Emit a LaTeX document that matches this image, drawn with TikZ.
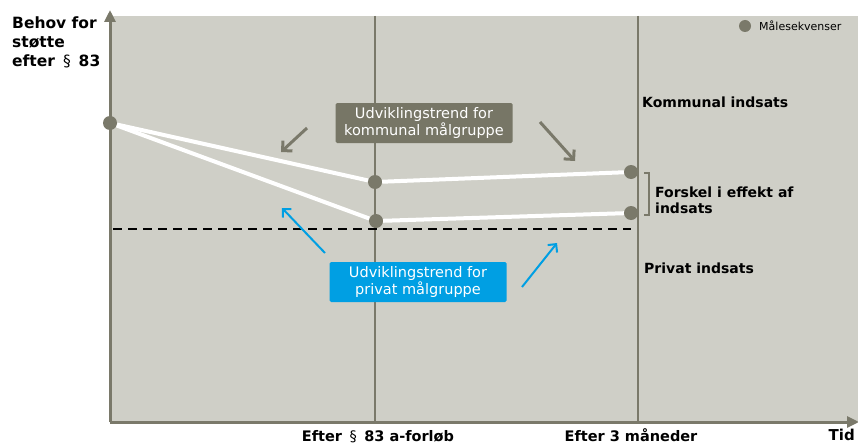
\documentclass[tikz,border=0pt]{standalone}
\usepackage{fontspec}
\setmainfont{DejaVu Sans}
\usetikzlibrary{arrows.meta}
\definecolor{panel}{RGB}{207,207,199}
\definecolor{axisgray}{RGB}{122,121,106}
\definecolor{boxgray}{RGB}{119,118,102}
\definecolor{trendblue}{RGB}{0,159,227}
\tikzset{
  axisline/.style={axisgray, line width=3pt, -{Triangle[width=11pt,length=12pt]}},
  gridline/.style={axisgray, line width=1.3pt},
  trend/.style={white, line width=4pt},
  pt/.style={circle, fill=axisgray, inner sep=0pt, minimum size=14pt},
  labelbox/.style={rounded corners=1.5pt, text=white, align=center, inner sep=0pt,
    minimum width=177pt, minimum height=40pt, font=\fontsize{14.5}{17}\selectfont},
  kbox/.style={labelbox, fill=boxgray},
  pbox/.style={labelbox, fill=trendblue},
  grayarrow/.style={axisgray, line width=3pt, -{Straight Barb[length=7pt,width=14pt,line width=3pt]}},
  bluearrow/.style={trendblue, line width=2pt, -{Straight Barb[length=6pt,width=12pt,line width=2pt]}},
  boldlabel/.style={font=\bfseries\fontsize{14}{16}\selectfont, anchor=west, align=left, inner sep=0pt},
  ticklabel/.style={font=\bfseries\fontsize{14.5}{16}\selectfont, anchor=base, inner sep=0pt},
}
\begin{document}
\begin{tikzpicture}[x=1pt,y=-1pt]
\useasboundingbox[fill=white] (0,0) rectangle (858,444);
% plotting area
\fill[panel] (110,16) rectangle (858,422);
% time markers
\coordinate (g1t) at (375,16);  \coordinate (g1b) at (375,422);
\coordinate (g2t) at (638,16);  \coordinate (g2b) at (638,422);
\draw[gridline] (g1t) -- (g1b);
\draw[gridline] (g2t) -- (g2b);
% axes
\coordinate (origin) at (110,422);
\coordinate (ytop) at (110,10);
\coordinate (xend) at (859,422);
\draw[axisline] (origin) -- (ytop);
\draw[axisline] (origin) -- (xend);
% baseline (dashed)
\coordinate (dl) at (113,229);
\coordinate (dr) at (631,229);
\draw[black, line width=1.2pt, dash pattern=on 9pt off 6pt] (dl) -- (dr);
% measurement points
\node[pt] (s)  at (110,123) {};
\node[pt] (k1) at (375,182) {};
\node[pt] (k2) at (631,172) {};
\node[pt] (p1) at (376,221) {};
\node[pt] (p2) at (631,213) {};
% trend lines
\draw[trend] (s) -- (k1) -- (k2);
\draw[trend] (s) -- (p1) -- (p2);
% labels for trends
\node[kbox] (kb) at (424,123) {Udviklingstrend for\\kommunal målgruppe};
\node[pbox] (pb) at (418,282) {Udviklingstrend for\\privat målgruppe};
% gray pointers
\coordinate (ga1) at (307,128); \coordinate (ga2) at (281,152);
\coordinate (gb1) at (540,122); \coordinate (gb2) at (575,161);
\draw[grayarrow] (ga1) -- (ga2);
\draw[grayarrow] (gb1) -- (gb2);
% blue pointers
\coordinate (ba1) at (325,253); \coordinate (ba2) at (282,208);
\coordinate (bb1) at (522,287); \coordinate (bb2) at (557,243);
\draw[bluearrow] (ba1) -- (ba2);
\draw[bluearrow] (bb1) -- (bb2);
% bracket for difference
\coordinate (bt) at (644,173); \coordinate (bb) at (644,215);
\draw[axisgray, line width=1.2pt] (bt) -- ++(5,0) |- (bb);
% right side labels
\node[boldlabel] (kl) at (642,102) {Kommunal indsats};
\node[boldlabel] (fl) at (655,200) {Forskel i effekt af\\indsats};
\node[boldlabel] (pl) at (644,268) {Privat indsats};
% legend
\node[pt, minimum size=12pt] (lg) at (745,26) {};
\node[anchor=west, font=\fontsize{11}{12}\selectfont, inner sep=0pt] (lgt) at (759,26) {Målesekvenser};
% y-axis title
\node[anchor=north west, align=left, inner sep=0pt,
  font=\bfseries\fontsize{15.5}{19}\selectfont] (ylab) at (12,17)
  {Behov for\\støtte\\efter \,{\mdseries§}\, 83};
% time labels
\node[ticklabel] (t1) at (378,441) {Efter \,{\mdseries§}\, 83 a-forløb};
\node[ticklabel] (t2) at (631,441) {Efter 3 måneder};
\node[ticklabel, anchor=base east, font=\bfseries\fontsize{15}{16}\selectfont] (tid) at (855,440) {Tid};
\end{tikzpicture}
\end{document}
